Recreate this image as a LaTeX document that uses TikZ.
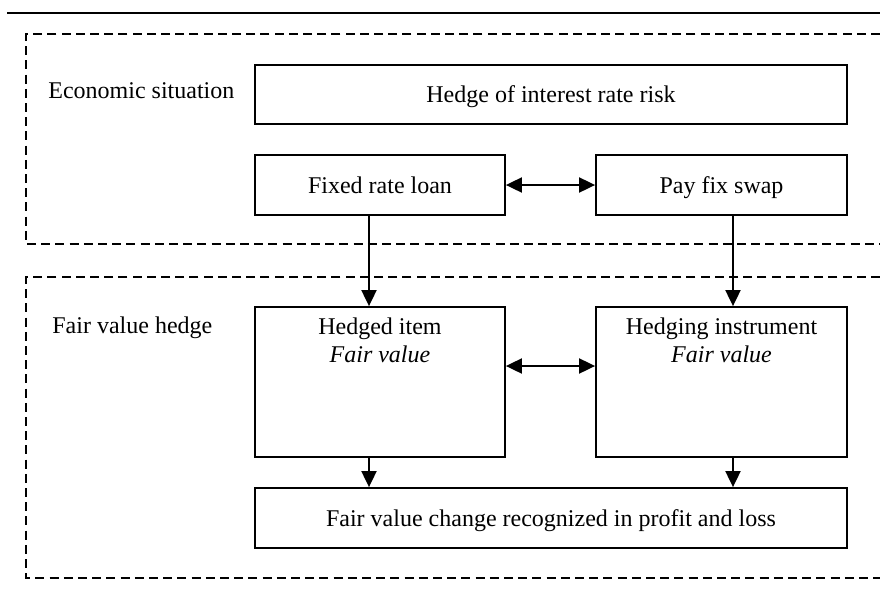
\documentclass[tikz,border=0pt]{standalone}
\usepackage{fontspec}
\setmainfont{Liberation Serif}
\usetikzlibrary{arrows.meta}
\tikzset{
  box/.style={draw, line width=0.9pt, inner sep=0pt, font=\fontsize{12}{14}\selectfont, align=center, text height=11pt, text depth=2.7pt},
  txt/.style={inner sep=0pt, font=\fontsize{12}{14}\selectfont, align=center},
  region/.style={line width=0.9pt, dash pattern=on 4.5pt off 2.6pt},
  conn/.style={line width=0.95pt, -{Triangle[length=8pt,width=7.5pt]}},
  dconn/.style={line width=0.95pt, {Triangle[length=8pt,width=7.5pt]}-{Triangle[length=8pt,width=7.5pt]}}
}
\begin{document}
\begin{tikzpicture}[x=0.5pt,y=-0.5pt]
\useasboundingbox (0,0) rectangle (880,601);
% top rule
\draw[line width=1.1pt] (7,13) -- (880,13);
% dashed regions (open on the right)
\draw[region] (880,34) -- (26,34) -- (26,244) -- (880,244);
\draw[region] (880,277) -- (26,277) -- (26,578) -- (880,578);
% labels
\node[txt, anchor=west] (econ) at (48,91) {Economic situation};
\node[txt, anchor=west] (fvh) at (52,328) {Fair value hedge};
% boxes
\node[box, minimum width=296pt, minimum height=29.5pt] (hedge) at (551,94.5) {Hedge of interest rate risk};
\node[box, minimum width=125pt, minimum height=30pt] (loan) at (380,185) {Fixed rate loan};
\node[box, minimum width=125.5pt, minimum height=30pt] (swap) at (721.5,185) {Pay fix swap};
\node[box, minimum width=125pt, minimum height=75pt] (item) at (380,382) {};
\node[box, minimum width=125.5pt, minimum height=75pt] (instr) at (721.5,382) {};
\node[txt, anchor=north] (itemtxt) at ([yshift=-5.5pt]item.north) {Hedged item\\\textit{Fair value}};
\node[txt, anchor=north] (instrtxt) at ([yshift=-5.5pt]instr.north) {Hedging instrument\\\textit{Fair value}};
\node[box, minimum width=296pt, minimum height=30pt] (result) at (551,518) {Fair value change recognized in profit and loss};
% connectors
\draw[dconn] (loan.east) -- (swap.west);
\draw[dconn] (item.east |- 0,366) -- (instr.west |- 0,366);
\draw[conn] (loan.south -| 369,0) -- (item.north -| 369,0);
\draw[conn] (swap.south -| 733,0) -- (instr.north -| 733,0);
\draw[conn] (item.south -| 369,0) -- (result.north -| 369,0);
\draw[conn] (instr.south -| 733,0) -- (result.north -| 733,0);
\end{tikzpicture}
\end{document}
